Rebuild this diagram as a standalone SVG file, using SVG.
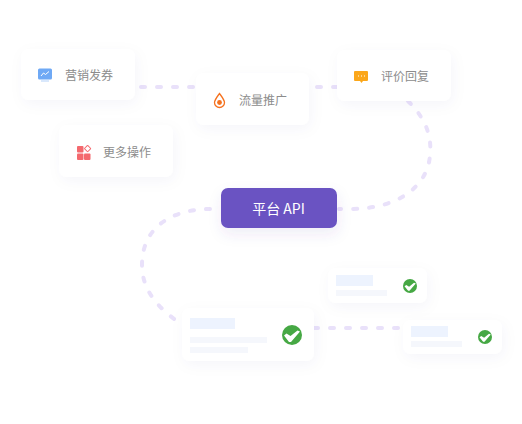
<svg xmlns="http://www.w3.org/2000/svg" width="522" height="424" viewBox="0 0 522 424">
<style>
.dash{fill:none;stroke:#e9e1fa;stroke-width:4;stroke-linecap:round;stroke-dasharray:4 12}
.card{fill:#fff;filter:url(#sh)}
.lbl{font-family:"Noto Sans CJK SC","Liberation Sans",sans-serif;font-size:12px;fill:#8c8c8c}
.b1{fill:#edf3fe}.b2{fill:#f5f7fc}
.ok{fill:#46a844}.tick{fill:#fff}
</style>
<defs>
<filter id="sh" x="-30%" y="-50%" width="160%" height="220%"><feDropShadow dx="2" dy="4" stdDeviation="7" flood-color="#3c3c78" flood-opacity="0.04"/></filter>
<filter id="shb" x="-30%" y="-50%" width="160%" height="220%"><feDropShadow dx="1" dy="6" stdDeviation="7" flood-color="#50419b" flood-opacity="0.09"/></filter>
</defs>
<rect width="522" height="424" fill="#fff"/>
<g id="connectors">
<path class="dash" d="M141,87H337"/>
<path class="dash" d="M408,101C425,118 432,135 430,155C428,185 400,209 350,209H339"/>
<path class="dash" d="M210,209C175,209 142,225 142,265C142,295 165,312 178,322"/>
<path class="dash" d="M314,328H404"/>
</g>
<g id="node-coupon">
<rect class="card" x="21" y="49" width="114" height="51" rx="8"/>
<rect x="38" y="68.500" width="14" height="11" rx="1.500" fill="#6fa9f5"/>
<path d="M41,76l2.500,-3 2,1.500 3.500,-3" fill="none" stroke="#fff" stroke-width="1"/>
<rect x="41" y="80.500" width="8" height="1" fill="#b4d2fa"/>
<text class="lbl" x="65" y="80">营销发券</text>
</g>
<g id="node-traffic">
<rect class="card" x="196" y="73" width="113" height="52" rx="8"/>
<path d="M219.500,93.500C217,97 214.500,100 214.500,102.500a5,5 0 0 0 10,0C224.500,100 222,97 219.500,93.500Z" fill="none" stroke="#f5711e" stroke-width="1.300"/>
<circle cx="219.500" cy="102.500" r="2.400" fill="#f5711e"/>
<text class="lbl" x="239" y="105">流量推广</text>
</g>
<g id="node-review">
<rect class="card" x="337" y="50" width="114" height="51" rx="8"/>
<path d="M356,71h11a1,1 0 0 1 1,1v8a1,1 0 0 1 -1,1h-4l-1.500,2 -1.500,-2h-5a1,1 0 0 1 -1,-1v-8a1,1 0 0 1 1,-1Z" fill="#fba71b"/>
<path d="M358,76h1M361,76h1M364,76h1" stroke="#fff" stroke-width="1"/>
<text class="lbl" x="381" y="81">评价回复</text>
</g>
<g id="node-more">
<rect class="card" x="59" y="125" width="114" height="52" rx="8"/>
<g fill="#f4696e">
<rect x="77" y="146" width="6.500" height="6.500" rx="1"/>
<rect x="77" y="153.500" width="6.500" height="6.500" rx="1"/>
<rect x="84" y="153.500" width="6.500" height="6.500" rx="1"/>
</g>
<rect x="85.300" y="146.300" width="4.600" height="4.600" rx=".5" transform="rotate(45 87.600 148.600)" fill="none" stroke="#f4696e" stroke-width="1"/>
<text class="lbl" x="103" y="157">更多操作</text>
</g>
<g id="node-api">
<rect x="221" y="188" width="116" height="40" rx="7" fill="#6a53c2" filter="url(#shb)"/>
<text x="278.500" y="214" text-anchor="middle" font-family="'Noto Sans CJK SC','Liberation Sans',sans-serif" font-size="14" fill="#fff">平台 API</text>
</g>
<g id="node-result-main">
<rect class="card" x="182" y="308" width="132" height="53" rx="8"/>
<rect class="b1" x="190" y="318" width="45" height="11"/>
<rect class="b2" x="190" y="337" width="77" height="6"/>
<rect class="b2" x="190" y="347" width="58" height="6"/>
<circle class="ok" cx="292" cy="335" r="10"/>
<path class="tick" d="M284,335.500l2.500,-2 4,2.500 7,-5.500 2.500,1 -9,10.500 -2,0Z"/>
</g>
<g id="node-result-a">
<rect class="card" x="328" y="268" width="99" height="35" rx="8"/>
<rect class="b1" x="336" y="275" width="37" height="11"/>
<rect class="b2" x="336" y="290" width="51" height="6"/>
<circle class="ok" cx="410" cy="286" r="7"/>
<path class="tick" d="M404.500,286.300l1.800,-1.400 2.800,1.800 4.900,-3.900 1.800,.7 -6.300,7.300 -1.400,0Z"/>
</g>
<g id="node-result-b">
<rect class="card" x="403" y="320" width="99" height="34" rx="8"/>
<rect class="b1" x="411" y="326" width="37" height="11"/>
<rect class="b2" x="411" y="341" width="51" height="6"/>
<circle class="ok" cx="485" cy="337" r="7"/>
<path class="tick" d="M479.500,337.300l1.800,-1.400 2.800,1.800 4.900,-3.900 1.800,.7 -6.300,7.300 -1.400,0Z"/>
</g>
</svg>
